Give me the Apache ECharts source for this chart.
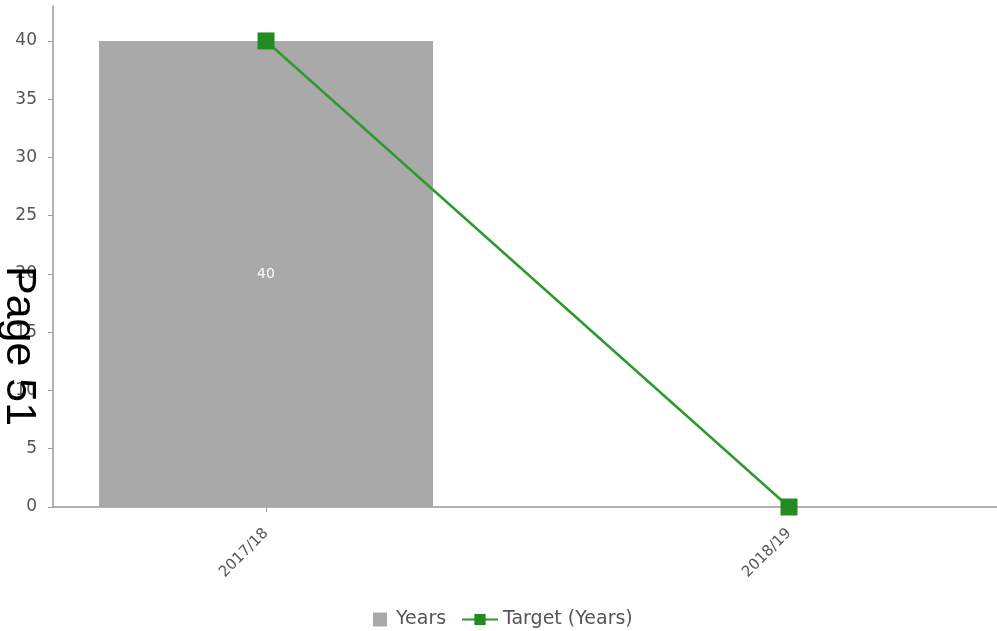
<!DOCTYPE html>
<html>
<head>
<meta charset="utf-8">
<script src="https://cdn.jsdelivr.net/npm/echarts@6/dist/echarts.min.js"></script>
<style>
html,body{margin:0;padding:0;background:#fff;}
#chart{width:997px;height:631px;}
</style>
</head>
<body>
<div id="chart"></div>
<script>
// Periods shown along the x axis
const categories = ['2017/18', '2018/19'];
// Actual years per period (no bar for the second period)
const yearsValues = [40, null];
// Target years per period
const targetValues = [40, 0];
// Y axis tick labels
const yTicks = [0, 5, 10, 15, 20, 25, 30, 35, 40];

const chart = echarts.init(document.getElementById('chart'));

const axisGray = '#9a9a9a';
const labelGray = '#555555';
const font = 'DejaVu Sans, Verdana, sans-serif';
const legendText = { color: labelGray, fontFamily: font, fontSize: 19 };

chart.setOption({
  animation: false,
  grid: { left: 53, right: 0, top: 6, bottom: 124 },
  xAxis: {
    type: 'value',
    min: -0.4073,
    max: 1.3977,
    splitLine: { show: false },
    axisLine: { show: true, onZero: false, lineStyle: { color: axisGray, width: 1.5 } },
    axisTick: { show: true, customValues: [0, 1], length: 5, lineStyle: { color: axisGray } },
    axisLabel: {
      customValues: [0, 1],
      rotate: 45,
      color: labelGray,
      fontFamily: font,
      fontSize: 15,
      margin: 24,
      formatter: v => categories[Math.round(v)]
    }
  },
  yAxis: {
    type: 'value',
    min: 0,
    max: 43,
    splitLine: { show: false },
    axisLine: { show: true, onZero: false, lineStyle: { color: axisGray, width: 1.5 } },
    axisTick: { show: true, customValues: yTicks, length: 5, lineStyle: { color: axisGray } },
    axisLabel: {
      customValues: yTicks,
      color: labelGray,
      fontFamily: font,
      fontSize: 17,
      margin: 16
    }
  },
  legend: [
    {
      left: 368,
      top: 605,
      itemWidth: 14,
      itemHeight: 14,
      itemGap: 0,
      textStyle: Object.assign({ padding: [0, 0, 0, 4] }, legendText),
      data: [{ name: 'Years', icon: 'rect' }]
    },
    {
      left: 456,
      top: 605,
      itemWidth: 36,
      itemHeight: 14,
      textStyle: legendText,
      data: [{ name: 'Target (Years)' }]
    }
  ],
  series: [
    {
      name: 'Years',
      type: 'bar',
      barWidth: 334,
      itemStyle: { color: '#a9a9a9' },
      label: {
        show: true,
        position: 'inside',
        color: '#ffffff',
        fontFamily: font,
        fontSize: 14
      },
      data: yearsValues.map((v, i) => [i, v])
    },
    {
      name: 'Target (Years)',
      type: 'line',
      symbol: 'rect',
      symbolSize: 17,
      lineStyle: { color: '#2e9a2e', width: 2.5 },
      itemStyle: { color: '#228b22' },
      data: targetValues.map((v, i) => [i, v])
    }
  ],
  graphic: [
    {
      type: 'text',
      x: 40,
      y: 266,
      rotation: -Math.PI / 2,
      style: {
        text: 'Page 51',
        fill: '#000000',
        font: '43px "Liberation Sans", Arial, sans-serif'
      },
      z: 100
    }
  ]
});
</script>
</body>
</html>
